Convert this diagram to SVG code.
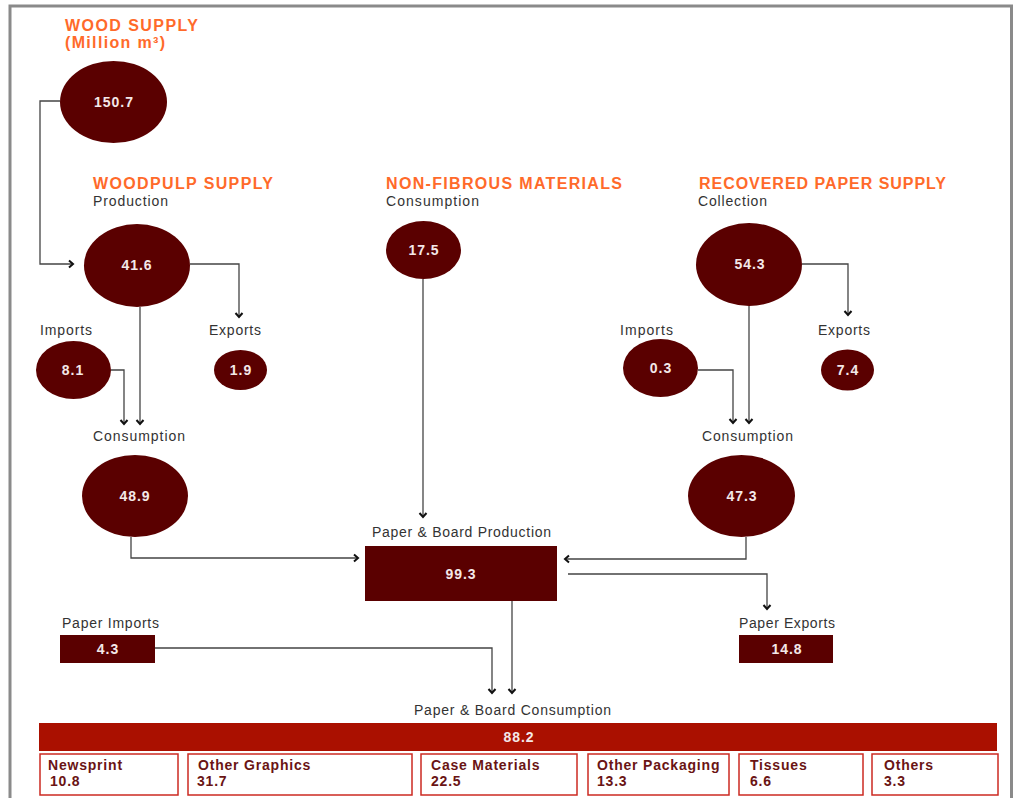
<svg xmlns="http://www.w3.org/2000/svg" width="1014" height="798" viewBox="0 0 1014 798">
<defs>
<style>
.title{font-family:"Liberation Sans",Arial,sans-serif;font-weight:bold;font-size:16px;fill:#ff6a2a}
.lbl{font-family:"Liberation Sans",Arial,sans-serif;font-size:14px;fill:#333}
.num{font-family:"Liberation Sans",Arial,sans-serif;font-weight:bold;font-size:14px;fill:#f4e8e8;text-anchor:middle;letter-spacing:1px}
.bub{fill:#5a0000}
.cat{fill:#fff;stroke:#cc2a22;stroke-width:1.5}
.ct{font-family:"Liberation Sans",Arial,sans-serif;font-weight:bold;font-size:14px;fill:#6a1414;letter-spacing:0.8px}
.con{fill:none;stroke:#444;stroke-width:1.3}
</style>
<marker id="arr" markerUnits="userSpaceOnUse" markerWidth="12" markerHeight="12" refX="0" refY="0" viewBox="-6 -6 12 12" orient="auto" overflow="visible">
<path d="M-4,-3.5 L0,0 L-4,3.5" fill="none" stroke="#111" stroke-width="2"/>
</marker>
</defs>
<rect x="0" y="0" width="1014" height="798" fill="#fff"/>
<rect x="10" y="6" width="1001.5" height="830" fill="none" stroke="#8a8a8a" stroke-width="3"/>

<g id="connectors">
<path class="con" d="M60,101 H40 V264 H73" marker-end="url(#arr)"/>
<path class="con" d="M190,264 H239 V317" marker-end="url(#arr)"/>
<path class="con" d="M111,370 H124 V424" marker-end="url(#arr)"/>
<path class="con" d="M140,307 V424" marker-end="url(#arr)"/>
<path class="con" d="M131,537 V558 H358" marker-end="url(#arr)"/>
<path class="con" d="M423,279 V517" marker-end="url(#arr)"/>
<path class="con" d="M802,264 H848 V315" marker-end="url(#arr)"/>
<path class="con" d="M698,370 H733 V423" marker-end="url(#arr)"/>
<path class="con" d="M749,306 V423" marker-end="url(#arr)"/>
<path class="con" d="M746,537 V559 H565" marker-end="url(#arr)"/>
<path class="con" d="M568,574 H767 V609" marker-end="url(#arr)"/>
<path class="con" d="M155,648 H492 V693" marker-end="url(#arr)"/>
<path class="con" d="M512,601 V693" marker-end="url(#arr)"/>
</g>

<g id="titles">
<text class="title" x="65" y="30.5" textLength="133" lengthAdjust="spacing">WOOD SUPPLY</text>
<text class="title" x="65" y="48" textLength="100" lengthAdjust="spacing">(Million m³)</text>
<text class="title" x="93" y="189" textLength="180" lengthAdjust="spacing">WOODPULP SUPPLY</text>
<text class="lbl" x="93" y="206" textLength="75" lengthAdjust="spacing">Production</text>
<text class="title" x="386" y="189" textLength="236" lengthAdjust="spacing">NON-FIBROUS MATERIALS</text>
<text class="lbl" x="386" y="206" textLength="93" lengthAdjust="spacing">Consumption</text>
<text class="title" x="699" y="189" textLength="247" lengthAdjust="spacing">RECOVERED PAPER SUPPLY</text>
<text class="lbl" x="698" y="206" textLength="69" lengthAdjust="spacing">Collection</text>
</g>

<g id="wood">
<ellipse class="bub" cx="113.5" cy="102" rx="53.5" ry="41"/>
<text class="num" x="114" y="107">150.7</text>
</g>
<g id="woodpulp-production">
<ellipse class="bub" cx="137" cy="265.5" rx="53" ry="41.5"/>
<text class="num" x="137" y="270">41.6</text>
</g>
<g id="woodpulp-imports">
<text class="lbl" x="40" y="335" textLength="52" lengthAdjust="spacing">Imports</text>
<ellipse class="bub" cx="73.5" cy="370" rx="37.5" ry="29"/>
<text class="num" x="73" y="375">8.1</text>
</g>
<g id="woodpulp-exports">
<text class="lbl" x="209" y="335" textLength="52" lengthAdjust="spacing">Exports</text>
<ellipse class="bub" cx="240.5" cy="370" rx="26.5" ry="20"/>
<text class="num" x="241" y="375">1.9</text>
</g>
<g id="woodpulp-consumption">
<text class="lbl" x="93" y="441" textLength="92" lengthAdjust="spacing">Consumption</text>
<ellipse class="bub" cx="135" cy="496" rx="53" ry="41"/>
<text class="num" x="135" y="501">48.9</text>
</g>
<g id="nonfibrous">
<ellipse class="bub" cx="423.5" cy="250" rx="37.5" ry="29"/>
<text class="num" x="424" y="255">17.5</text>
</g>
<g id="recovered-collection">
<ellipse class="bub" cx="749" cy="264.5" rx="53" ry="41.5"/>
<text class="num" x="750" y="269">54.3</text>
</g>
<g id="recovered-imports">
<text class="lbl" x="620" y="335" textLength="53" lengthAdjust="spacing">Imports</text>
<ellipse class="bub" cx="660.5" cy="368" rx="37.5" ry="29"/>
<text class="num" x="661" y="373">0.3</text>
</g>
<g id="recovered-exports">
<text class="lbl" x="818" y="335" textLength="52" lengthAdjust="spacing">Exports</text>
<ellipse class="bub" cx="847.5" cy="370" rx="26.5" ry="20.5"/>
<text class="num" x="848" y="375">7.4</text>
</g>
<g id="recovered-consumption">
<text class="lbl" x="702" y="441" textLength="91" lengthAdjust="spacing">Consumption</text>
<ellipse class="bub" cx="741.5" cy="496" rx="53.5" ry="41"/>
<text class="num" x="742" y="501">47.3</text>
</g>
<g id="production">
<text class="lbl" x="372" y="537" textLength="179" lengthAdjust="spacing">Paper &amp; Board Production</text>
<rect class="bub" x="365" y="546" width="192" height="55"/>
<text class="num" x="461" y="579">99.3</text>
</g>
<g id="paper-imports">
<text class="lbl" x="62" y="628" textLength="97" lengthAdjust="spacing">Paper Imports</text>
<rect class="bub" x="60" y="635" width="95" height="28"/>
<text class="num" x="108" y="654">4.3</text>
</g>
<g id="paper-exports">
<text class="lbl" x="739" y="628" textLength="96" lengthAdjust="spacing">Paper Exports</text>
<rect class="bub" x="739" y="635" width="94" height="28"/>
<text class="num" x="787" y="654">14.8</text>
</g>
<g id="consumption">
<text class="lbl" x="414" y="715" textLength="197" lengthAdjust="spacing">Paper &amp; Board Consumption</text>
<rect x="39" y="723" width="958" height="28" fill="#aa1000"/>
<text class="num" x="519" y="742">88.2</text>
</g>
<g id="cat-newsprint">
<rect class="cat" x="40" y="754" width="138" height="41"/>
<text class="ct" x="48" y="770">Newsprint</text>
<text class="ct" x="50" y="786">10.8</text>
</g>
<g id="cat-other-graphics">
<rect class="cat" x="188" y="754" width="224" height="41"/>
<text class="ct" x="198" y="770">Other Graphics</text>
<text class="ct" x="197" y="786">31.7</text>
</g>
<g id="cat-case-materials">
<rect class="cat" x="421" y="754" width="156" height="41"/>
<text class="ct" x="431" y="770">Case Materials</text>
<text class="ct" x="431" y="786">22.5</text>
</g>
<g id="cat-other-packaging">
<rect class="cat" x="588" y="754" width="141" height="41"/>
<text class="ct" x="597" y="770">Other Packaging</text>
<text class="ct" x="597" y="786">13.3</text>
</g>
<g id="cat-tissues">
<rect class="cat" x="739" y="754" width="124" height="41"/>
<text class="ct" x="750" y="770">Tissues</text>
<text class="ct" x="750" y="786">6.6</text>
</g>
<g id="cat-others">
<rect class="cat" x="872" y="754" width="126" height="41"/>
<text class="ct" x="884" y="770">Others</text>
<text class="ct" x="884" y="786">3.3</text>
</g>
</svg>
